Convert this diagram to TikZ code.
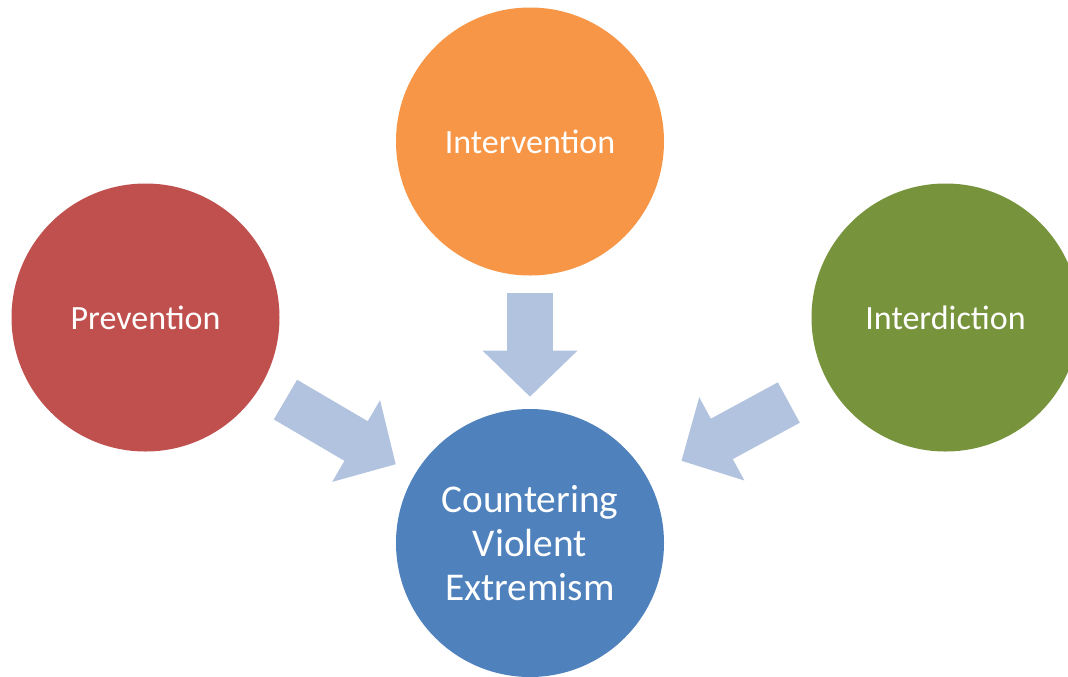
\documentclass[tikz,border=0pt]{standalone}
\usepackage{fontspec}
\setmainfont{Carlito}
\usepackage{xcolor}
\usetikzlibrary{arrows.meta,positioning}
\definecolor{prevred}{HTML}{C0504D}
\definecolor{interorange}{HTML}{F79646}
\definecolor{interdgreen}{HTML}{77933C}
\definecolor{cveblue}{HTML}{4F81BD}
\definecolor{arrowblue}{RGB}{178,195,223}

\begin{document}
\begin{tikzpicture}[
    x=0.75pt, y=-0.75pt,
    nosep/.style={inner sep=0},
    phase/.style={circle, nosep, minimum size=201pt, text=white, align=center,
        font=\fontsize{25.5}{32.5}\selectfont},
    blockarrow/.style={draw=arrowblue, line width=34.5pt,
        -{Triangle[width=69pt, length=34.5pt]}}]
\path[use as bounding box, clip] (0,0) rectangle (1068,676);

\node[phase, fill=interorange] (intv) at (530,141.5) {Intervention};
\node[phase, fill=prevred]     (prev) at (145.5,317.5) {Prevention};
\node[phase, fill=interdgreen] (intd) at (945.5,317.5) {Interdiction};
\node[phase, fill=cveblue, font=\fontsize{29.5}{33}\selectfont]
    (cve) at (530,543) {Countering\\Violent\\Extremism};

% arrows into the centre
\draw[blockarrow, shorten <=12.75pt, shorten >=9pt]  (intv) -- (cve);
\draw[blockarrow, shorten <=21pt,    shorten >=16pt] (prev) -- (cve);
\draw[blockarrow, shorten <=33pt,    shorten >=28.5pt] (intd) -- (cve);

\end{tikzpicture}
\end{document}
